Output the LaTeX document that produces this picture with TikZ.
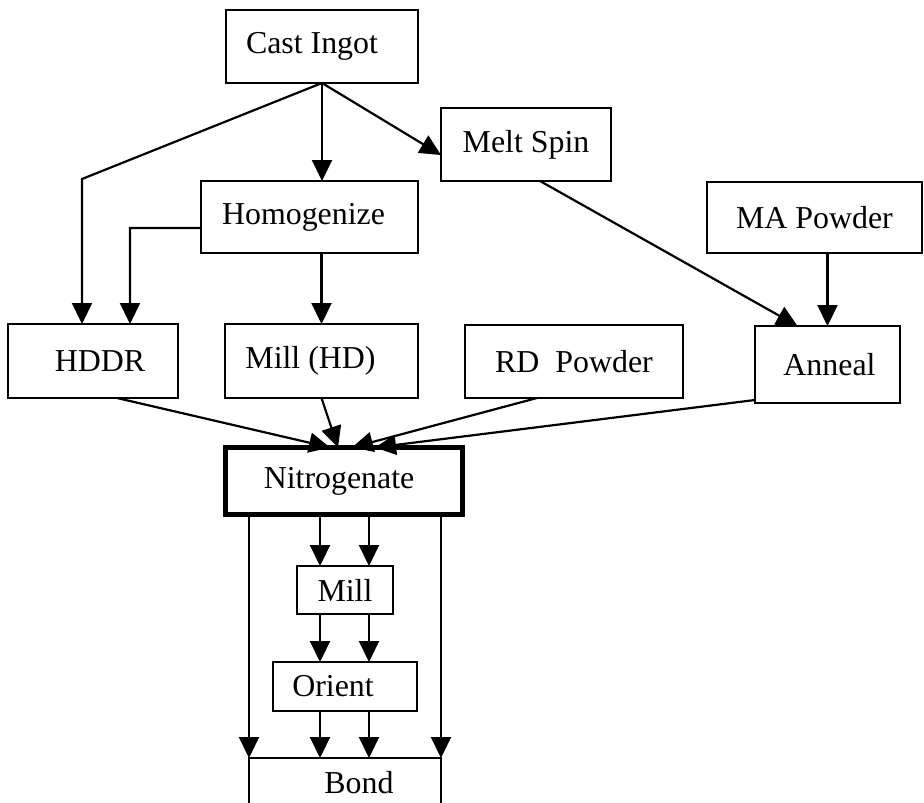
\documentclass[tikz,border=0pt]{standalone}
\usepackage{fontspec}
\setmainfont{Liberation Serif}
\usetikzlibrary{arrows.meta}
\begin{document}
\begin{tikzpicture}[x=1bp,y=-1bp,
  box/.style={draw, line width=2bp, inner sep=0pt, outer sep=0pt, anchor=center,
    font=\fontsize{32}{36}\selectfont},
  thickbox/.style={box, line width=5bp},
  conn/.style={line width=2.2bp},
  arr/.style={conn, -{Triangle[length=21bp,width=20bp]}}]
\useasboundingbox (0,0) rectangle (924,803);
% boxes
\node[box, minimum width=192bp, minimum height=73bp] (cast) at (322,46.5) {Cast Ingot\kern20bp};
\node[box, minimum width=170bp, minimum height=73bp] (melt) at (526,144.5) {Melt Spin};
\node[box, minimum width=217bp, minimum height=72bp] (homog) at (309.5,217) {Homogenize\kern12bp};
\node[box, minimum width=215bp, minimum height=71bp] (mapow) at (814.5,217.5) {MA Powder};
\node[box, minimum width=170bp, minimum height=74bp] (hddr) at (93,361) {\kern14bp HDDR};
\node[box, minimum width=193bp, minimum height=74bp] (millhd) at (321.5,361) {Mill (HD)\kern22bp};
\node[box, minimum width=218bp, minimum height=73bp] (rdpow) at (574,361.5) {RD~~Powder};
\node[box, minimum width=145bp, minimum height=77bp] (anneal) at (827.5,364.5) {\kern4bp Anneal};
\node[thickbox, minimum width=237bp, minimum height=67bp] (nitro) at (344,481) {Nitrogenate\kern10bp};
\node[box, minimum width=96bp, minimum height=48bp] (mill) at (345,590) {Mill};
\node[box, minimum width=144bp, minimum height=49bp] (orient) at (345,686.5) {Orient\kern24bp};
\node[box, draw=none, minimum width=192bp, minimum height=49bp] (bond) at (345,782.5) {\kern28bp Bond};
\draw[line width=2bp] (bond.south west) -- (bond.north west) -- (bond.north east) -- (bond.south east);
% helper coordinates
\coordinate (k1) at (82,179);
\coordinate (k2) at (130,228);
\coordinate (cL) at (320,0);
\coordinate (cR) at (369,0);
\coordinate (bL) at (249,0);
\coordinate (bR) at (441,0);
% top connectors
\draw[arr] (cast.south) -- (cast.south |- homog.north);
\draw[arr] (cast.south) -- (k1) -- (k1 |- hddr.north);
\draw[arr] (cast.south) -- ([yshift=-10.5bp]melt.west);
\draw[arr] ([yshift=-11bp]homog.west) -- (k2) -- (k2 |- hddr.north);
\draw[arr] (homog.south -| millhd.north) -- (millhd.north);
\draw[arr] ([xshift=14bp]melt.south) -- ([xshift=-30bp]anneal.north);
\draw[arr] (mapow.south -| anneal.north) -- (anneal.north);
% into nitrogenate
\draw[arr] ([xshift=24bp]hddr.south) -- ([xshift=-14bp]nitro.north);
\draw[arr] (millhd.south) -- ([xshift=-6bp]nitro.north);
\draw[arr] ([xshift=-37bp]rdpow.south) -- ([xshift=8bp]nitro.north);
\draw[arr] ([yshift=3bp]anneal.south west) -- ([xshift=31bp]nitro.north);
% lower chain
\draw[arr] (nitro.south -| cL) -- (mill.north -| cL);
\draw[arr] (nitro.south -| cR) -- (mill.north -| cR);
\draw[arr] (mill.south -| cL) -- (orient.north -| cL);
\draw[arr] (mill.south -| cR) -- (orient.north -| cR);
\draw[arr] (orient.south -| cL) -- (bond.north -| cL);
\draw[arr] (orient.south -| cR) -- (bond.north -| cR);
\draw[arr] (nitro.south -| bL) -- (bond.north -| bL);
\draw[arr] (nitro.south -| bR) -- (bond.north -| bR);
\end{tikzpicture}
\end{document}
